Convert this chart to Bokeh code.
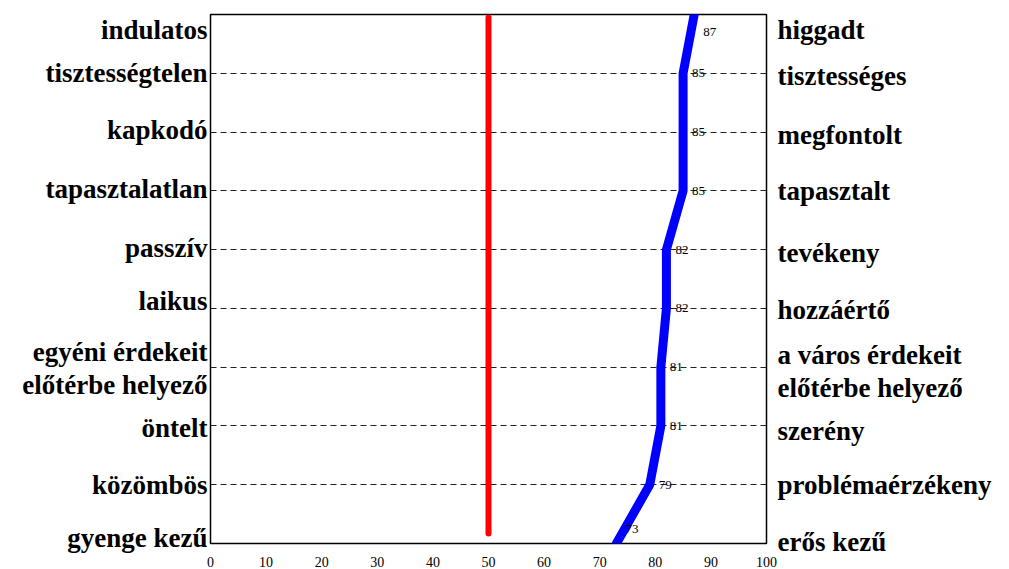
from bokeh.plotting import figure
from bokeh.models import ColumnDataSource, LabelSet, Range1d, FixedTicker, LinearAxis
from bokeh.embed import file_html
from bokeh.resources import INLINE

left_labels = ["indulatos", "tisztességtelen", "kapkodó", "tapasztalatlan", "passzív",
               "laikus", "egyéni érdekeit\nelőtérbe helyező", "öntelt", "közömbös", "gyenge kezű"]
right_labels = ["higgadt", "tisztességes", "megfontolt", "tapasztalt", "tevékeny",
                "hozzáértő", "a város érdekeit\nelőtérbe helyező", "szerény", "problémaérzékeny", "erős kezű"]
values = [87, 85, 85, 85, 82, 82, 81, 81, 79, 73]
reference_value = 50
reference_rows = [0.05, 8.83]
x_ticks = [0, 10, 20, 30, 40, 50, 60, 70, 80, 90, 100]

rows = list(range(len(values)))

# label vertical nudges (in row units, positive = down)
left_dy = [0.26, -0.01, -0.03, -0.03, -0.02, -0.13, 0.02, 0.03, 0.01, -0.1]
right_dy = [0.26, 0.04, 0.05, 0.0, 0.05, 0.02, 0.07, 0.08, 0.01, -0.02]
val_dy = [17] + [0] * 8 + [-15]   # px

FONT = "Liberation Serif"

p = figure(width=1009, height=569, x_range=Range1d(0, 100), y_range=Range1d(9, 0),
           output_backend="svg", toolbar_location=None,
           min_border_left=210, min_border_right=243, min_border_top=14, min_border_bottom=24)
p.background_fill_color = "white"
p.border_fill_color = "white"
p.outline_line_color = "black"
p.outline_line_width = 1.5

p.yaxis.visible = False
p.xgrid.visible = False
p.ygrid.ticker = FixedTicker(ticks=rows[1:-1])
p.ygrid.grid_line_color = "#222222"
p.ygrid.grid_line_dash = "6 4"
p.ygrid.grid_line_width = 1

p.xaxis.ticker = FixedTicker(ticks=x_ticks)
p.xaxis.axis_line_color = None
p.xaxis.major_tick_line_color = None
p.xaxis.minor_tick_line_color = None
p.xaxis.major_label_text_font = FONT
p.xaxis.major_label_text_font_size = "14px"
p.xaxis.major_label_text_color = "black"
p.xaxis.major_label_standoff = 7


def cat_axis(labels, dy, standoff):
    ticks = [r + d for r, d in zip(rows, dy)]
    ax = LinearAxis(ticker=FixedTicker(ticks=ticks),
                    major_label_overrides={t: lab for t, lab in zip(ticks, labels)},
                    axis_line_color=None, major_tick_line_color=None, minor_tick_line_color=None,
                    major_tick_out=0, major_tick_in=0,
                    major_label_standoff=standoff, major_label_orientation="horizontal",
                    major_label_text_font=FONT, major_label_text_font_size="27px",
                    major_label_text_font_style="bold", major_label_text_color="black",
                    major_label_text_line_height=1.1)
    return ax


p.add_layout(cat_axis(left_labels, left_dy, 3), "left")
p.add_layout(cat_axis(right_labels, right_dy, 11), "right")

p.line(x=[reference_value] * len(reference_rows), y=reference_rows, line_color="red",
       line_width=6, line_cap="round")
p.line(x=values, y=rows, line_color="blue", line_width=9, line_cap="round", line_join="round")

src = ColumnDataSource(dict(row=rows, v=values, vl=[str(v) for v in values], vdy=[-d for d in val_dy]))
p.add_layout(LabelSet(x="v", y="row", text="vl", source=src, x_offset=9, y_offset="vdy",
                      text_font=FONT, text_font_size="13px", text_baseline="middle",
                      text_color="black"))

open("out.html", "w").write(file_html(p, INLINE))
